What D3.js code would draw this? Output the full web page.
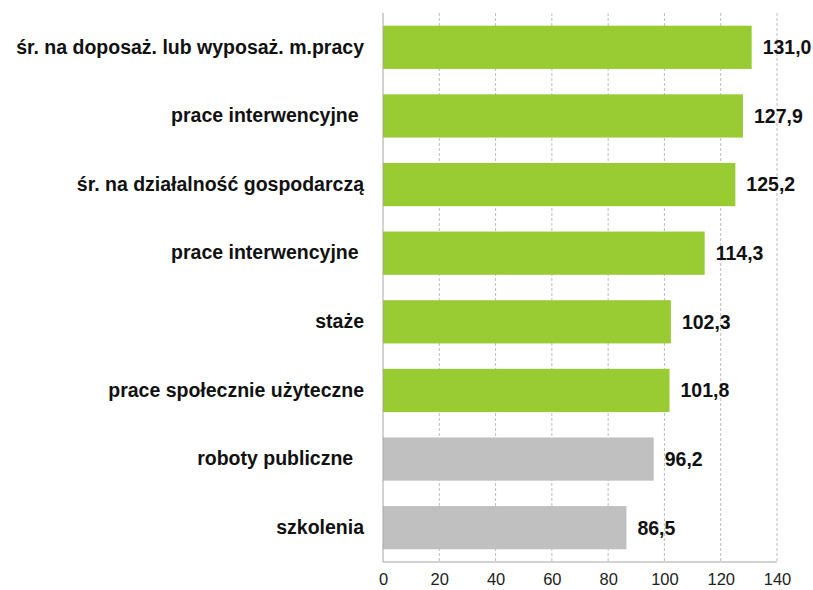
<!DOCTYPE html>
<html>
<head>
<meta charset="utf-8">
<script src="https://cdn.jsdelivr.net/npm/d3@7"></script>
<style>
  body { margin: 0; background: #fff; }
  text { font-family: "Liberation Sans", Arial, sans-serif; }
</style>
</head>
<body>
<div id="vis"></div>
<script>
// chart data
var categories = [
    'śr. na doposaż. lub wyposaż. m.pracy',
    'prace interwencyjne ',
    'śr. na działalność gospodarczą',
    'prace interwencyjne ',
    'staże',
    'prace społecznie użyteczne',
    'roboty publiczne  ',
    'szkolenia'
];
var values = [131.0, 127.9, 125.2, 114.3, 102.3, 101.8, 96.2, 86.5];
var barColors = ['#99cc33', '#99cc33', '#99cc33', '#99cc33', '#99cc33', '#99cc33', '#c0c0c0', '#c0c0c0'];
var xTicks = [0, 20, 40, 60, 80, 100, 120, 140];

var opts = {
    width: 813,
    height: 590,
    margin: { top: 13, right: 36, bottom: 28, left: 383 }
};

var svg = d3.select('#vis').append('svg')
    .attr('width', opts.width)
    .attr('height', opts.height);

var x = d3.scaleLinear()
    .domain([0, 140])
    .range([opts.margin.left, opts.width - opts.margin.right]);

var y = d3.scaleBand()
    .domain(d3.range(categories.length))
    .range([opts.margin.top, opts.height - opts.margin.bottom])
    .paddingInner(0.37)
    .paddingOuter(0.185);

var yBottom = opts.height - opts.margin.bottom;

// dashed gridlines
svg.append('g')
    .selectAll('line')
    .data(xTicks.slice(1))
    .enter()
    .append('line')
    .attr('x1', function (d) { return x(d); })
    .attr('x2', function (d) { return x(d); })
    .attr('y1', opts.margin.top)
    .attr('y2', yBottom)
    .attr('stroke', '#bdbdbd')
    .attr('stroke-width', 1)
    .attr('stroke-dasharray', '3,2');

// bars
svg.append('g')
    .selectAll('rect')
    .data(values)
    .enter()
    .append('rect')
    .attr('x', x(0))
    .attr('y', function (d, i) { return y(i); })
    .attr('width', function (d) { return x(d) - x(0); })
    .attr('height', y.bandwidth())
    .attr('fill', function (d, i) { return barColors[i]; });

// axis lines
svg.append('line')
    .attr('x1', x(0)).attr('x2', x(0))
    .attr('y1', opts.margin.top).attr('y2', yBottom)
    .attr('stroke', '#a6a6a6');
svg.append('line')
    .attr('x1', x(0)).attr('x2', x(140))
    .attr('y1', yBottom).attr('y2', yBottom)
    .attr('stroke', '#a6a6a6');

// x tick labels
var xAxis = d3.axisBottom(x)
    .tickValues(xTicks)
    .tickSize(0)
    .tickPadding(11);
var gx = svg.append('g')
    .attr('transform', 'translate(0,' + yBottom + ')')
    .call(xAxis);
gx.select('.domain').remove();
gx.selectAll('text')
    .attr('font-size', 16.5)
    .attr('font-family', '"Liberation Sans", Arial, sans-serif')
    .attr('fill', '#222');

// category labels
var yAxis = d3.axisLeft(y)
    .tickFormat(function (i) { return categories[i]; })
    .tickSize(0)
    .tickPadding(19);
var gy = svg.append('g')
    .attr('transform', 'translate(' + x(0) + ',0)')
    .call(yAxis);
gy.select('.domain').remove();
gy.selectAll('text')
    .attr('font-size', 19.5)
    .attr('font-weight', 'bold')
    .attr('font-family', '"Liberation Sans", Arial, sans-serif')
    .attr('fill', '#111')
    .style('white-space', 'pre');

// value labels
svg.append('g')
    .selectAll('text')
    .data(values)
    .enter()
    .append('text')
    .attr('x', function (d) { return x(d) + 11; })
    .attr('y', function (d, i) { return y(i) + y.bandwidth() / 2; })
    .attr('dy', '0.35em')
    .attr('font-size', 19.5)
    .attr('font-weight', 'bold')
    .attr('fill', '#111')
    .text(function (d) { return d.toFixed(1).replace('.', ','); });
</script>
</body>
</html>
